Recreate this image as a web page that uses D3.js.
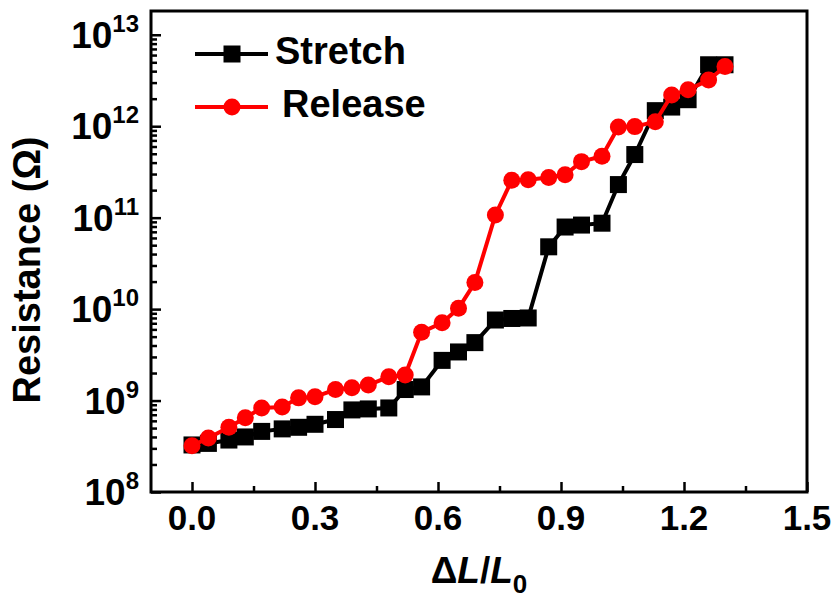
<!DOCTYPE html>
<meta charset="utf-8">
<style>
body { margin: 0; background: #fff; }
text { font-family: Arial, "Liberation Sans", sans-serif; font-weight: bold; fill: #000; }
</style>
<body>
<svg width="839" height="601" id="vis"></svg>
</body>
<script src="https://d3js.org/d3.v7.min.js"></script>
<script>
// strain (dL/L0) and resistance (ohm)
var strain = [0, 0.04, 0.09, 0.13, 0.17, 0.22, 0.26, 0.30, 0.35, 0.39, 0.43, 0.48, 0.52, 0.56, 0.61, 0.65,
  0.69, 0.74, 0.78, 0.82, 0.87, 0.91, 0.95, 1.00, 1.04, 1.08, 1.13, 1.17, 1.21, 1.26, 1.30];
var stretch = [3.27e8, 3.4e8, 3.7e8, 4.0e8, 4.6e8, 4.9e8, 5.1e8, 5.5e8, 6.2e8, 7.9e8, 8.1e8, 8.3e8,
  1.32e9, 1.41e9, 2.75e9, 3.4e9, 4.3e9, 7.6e9, 7.9e9, 8.0e9, 4.8e10, 7.9e10, 8.3e10, 8.7e10,
  2.3e11, 4.9e11, 1.48e12, 1.62e12, 1.95e12, 4.7e12, 4.7e12];
var release = [3.2e8, 3.9e8, 5.1e8, 6.5e8, 8.3e8, 8.5e8, 1.07e9, 1.1e9, 1.32e9, 1.38e9, 1.48e9, 1.82e9,
  1.9e9, 5.6e9, 7.1e9, 1.02e10, 1.95e10, 1.07e11, 2.57e11, 2.6e11, 2.75e11, 2.95e11, 4.1e11, 4.7e11,
  9.8e11, 9.9e11, 1.12e12, 2.2e12, 2.5e12, 3.2e12, 4.5e12];
var xTicks = [0, 0.3, 0.6, 0.9, 1.2, 1.5];
var xMinor = [0.15, 0.45, 0.75, 1.05, 1.35];
var yExps = [8, 9, 10, 11, 12, 13];
var seriesNames = ["Stretch", "Release"];

var svg = d3.select("svg"),
    margin = {top: 11, right: 32, bottom: 109, left: 151},
    width = +svg.attr("width") - margin.left - margin.right,
    height = +svg.attr("height") - margin.top - margin.bottom;

var x = d3.scaleLinear().domain([-0.1, 1.5]).range([0, width]),
    y = d3.scaleLog().domain([1e8, Math.pow(10, 13.26)]).range([height, 0]);

var g = svg.append("g")
    .attr("transform", "translate(" + margin.left + "," + margin.top + ")");

// minor y ticks 2..9 per decade
var yMinor = [];
yExps.forEach(function(e) {
  for (var k = 2; k < 10; k++) {
    var v = k * Math.pow(10, e);
    if (v < y.domain()[1]) yMinor.push(v);
  }
});

var yaxis = g.append("g")
    .call(d3.axisLeft(y).tickValues(yExps.map(function(e){return Math.pow(10, e);})).tickSize(-10).tickFormat(""));
yaxis.select(".domain").remove();
var yaxisMinor = g.append("g")
    .call(d3.axisLeft(y).tickValues(yMinor).tickSize(-6).tickFormat(""));
yaxisMinor.select(".domain").remove();

var xaxis = g.append("g")
    .attr("transform", "translate(0," + height + ")")
    .call(d3.axisBottom(x).tickValues(xTicks).tickSize(-10).tickFormat(""));
xaxis.select(".domain").remove();
var xaxisMinor = g.append("g")
    .attr("transform", "translate(0," + height + ")")
    .call(d3.axisBottom(x).tickValues(xMinor).tickSize(-6).tickFormat(""));
xaxisMinor.select(".domain").remove();

g.selectAll(".tick line").attr("stroke", "#000").attr("stroke-width", 2.5);

// frame
g.append("rect")
    .attr("width", width).attr("height", height)
    .attr("fill", "none").attr("stroke", "#000").attr("stroke-width", 3);

// tick labels
g.selectAll(".xlab").data(xTicks).enter().append("text")
    .attr("class", "xlab")
    .attr("x", function(d){return x(d);})
    .attr("y", height + 38)
    .attr("text-anchor", "middle")
    .style("font-size", "35px")
    .text(function(d){return d.toFixed(1);});

var ylab = g.selectAll(".ylab").data(yExps).enter().append("text")
    .attr("class", "ylab")
    .attr("x", -12)
    .attr("y", function(d){return y(Math.pow(10, d)) + 13;})
    .attr("text-anchor", "end")
    .style("font-size", "37px");
ylab.append("tspan").text("10");
ylab.append("tspan").attr("dy", -16).style("font-size", "24px").text(function(d){return d;});

// axis titles
svg.append("text")
    .attr("transform", "translate(40," + 270 + ") rotate(-90)")
    .attr("text-anchor", "middle")
    .style("font-size", "38px")
    .text("Resistance (Ω)");

var xt = svg.append("text")
    .attr("x", 479).attr("y", 583)
    .attr("text-anchor", "middle")
    .style("font-size", "37px");
xt.append("tspan").text("Δ");
xt.append("tspan").style("font-style", "italic").text("L");
xt.append("tspan").text("/");
xt.append("tspan").style("font-style", "italic").text("L");
xt.append("tspan").attr("dy", 10).style("font-size", "26px").text("0");

var line = d3.line()
    .x(function(d){return x(d[0]);})
    .y(function(d){return y(d[1]);});

var sData = d3.zip(strain, stretch),
    rData = d3.zip(strain, release);

// stretch: black squares
g.append("path").datum(sData)
    .attr("d", line).attr("fill", "none").attr("stroke", "#000").attr("stroke-width", 4);
g.selectAll(".sq").data(sData).enter().append("rect")
    .attr("class", "sq")
    .attr("x", function(d){return x(d[0]) - 8.5;})
    .attr("y", function(d){return y(d[1]) - 8.5;})
    .attr("width", 17).attr("height", 17)
    .attr("fill", "#000");

// release: red circles
g.append("path").datum(rData)
    .attr("d", line).attr("fill", "none").attr("stroke", "#ff0000").attr("stroke-width", 4);
g.selectAll(".ci").data(rData).enter().append("circle")
    .attr("class", "ci")
    .attr("cx", function(d){return x(d[0]);})
    .attr("cy", function(d){return y(d[1]);})
    .attr("r", 8.5)
    .attr("fill", "#ff0000");

// legend
var legend = svg.append("g");
var legY = [54, 107], legCol = ["#000", "#ff0000"];
seriesNames.forEach(function(name, i) {
  legend.append("line")
      .attr("x1", 195).attr("x2", 268)
      .attr("y1", legY[i]).attr("y2", legY[i])
      .attr("stroke", legCol[i]).attr("stroke-width", 4);
  if (i == 0) {
    legend.append("rect").attr("x", 232 - 8.5).attr("y", legY[i] - 8.5)
        .attr("width", 17).attr("height", 17).attr("fill", legCol[i]);
  } else {
    legend.append("circle").attr("cx", 232).attr("cy", legY[i]).attr("r", 8.5).attr("fill", legCol[i]);
  }
  legend.append("text")
      .attr("x", i == 0 ? 275 : 282)
      .attr("y", legY[i] + 10)
      .style("font-size", "38px")
      .text(name);
});
</script>
